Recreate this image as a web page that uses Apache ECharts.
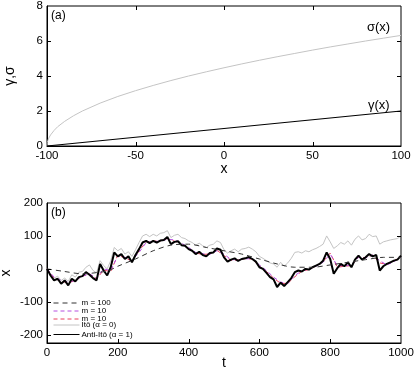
<!DOCTYPE html>
<html>
<head>
<meta charset="utf-8">
<script src="https://cdn.jsdelivr.net/npm/echarts@6/dist/echarts.min.js"></script>
<style>html,body{margin:0;padding:0;background:#fff}#c{width:414px;height:367px}</style>
</head>
<body>
<div id="c"></div>
<script>
// ---- panel (a) ----
const sigmaX = [-100,-99.8,-99.5,-99,-98,-96,-94,-90,-85,-80,-70,-60,-50,-40,-30,-20,-10,0,10,20,30,40,50,60,70,80,90,100];
const sigmaY = [0,0.2,0.32,0.45,0.63,0.89,1.1,1.41,1.73,2.0,2.45,2.83,3.16,3.46,3.74,4.0,4.24,4.47,4.69,4.9,5.1,5.29,5.48,5.66,5.83,6.0,6.16,6.32];
const gammaX = [-100,-50,0,50,100];
const gammaY = [0,0.5,1.0,1.5,2.0];
const xTicksA = [-50,0,50];
const yTicksA = [2,4,6];
// ---- panel (b) ----
const tGrid = [0,10,20,30,40,50,60,70,80,90,100,110,120,130,140,150,160,170,180,190,200,210,220,230,240,250,260,270,280,290,300,310,320,330,340,350,360,370,380,390,400,410,420,430,440,450,460,470,480,490,500,510,520,530,540,550,560,570,580,590,600,610,620,630,640,650,660,670,680,690,700,710,720,730,740,750,760,770,780,790,800,810,820,830,840,850,860,870,880,890,900,910,920,930,940,950,960,970,980,990,1000];
const antiIto = [0,-20,-35,-30,-45,-35,-50,-30,-38,-25,-22,-10,-18,-28,-35,15,-5,-20,5,50,38,45,30,38,20,42,60,80,85,78,85,80,86,88,97,75,82,84,72,70,60,55,45,52,42,38,48,50,62,58,35,22,28,32,24,30,32,36,30,22,5,0,-12,-25,-32,-55,-42,-52,-40,-28,-10,-5,-8,0,-2,5,10,15,25,50,30,-15,2,15,8,20,5,28,40,28,35,45,38,42,-5,8,15,20,25,28,40];
const ito = [0,-15,-28,-22,-35,-28,-38,-18,-25,-10,-8,5,12,-5,-12,25,10,0,25,65,55,62,45,52,38,58,80,100,105,98,105,100,108,110,116,95,102,105,95,92,85,80,72,78,70,65,72,75,85,80,58,48,55,60,52,60,62,66,60,52,38,32,25,18,15,5,20,8,18,32,50,52,48,55,52,58,62,68,75,100,82,62,70,80,75,85,72,90,100,88,92,105,98,100,75,82,85,88,90,92,100];
const m100T = [0,50,100,150,175,200,250,300,350,400,450,500,550,600,650,700,750,800,850,900,950,1000];
const m100V = [0,-8,-15,-10,-5,8,30,55,72,75,65,55,45,30,15,5,5,12,20,28,35,35];
const mag10T = [0,20,40,60,80,100,120,140,160,180,200,220,240,260,280,300,320,340,360,380,400,420,440,460,480,500,520,540,560,580,600,620,640,660,680,700,720,740,760,780,800,820,840,860,880,900,920,940,960,980,1000];
const mag10V = [0,-25,-35,-40,-35,-22,-15,-28,0,-5,40,35,25,50,80,83,84,90,88,78,65,50,46,44,55,45,28,28,30,32,12,-5,-25,-40,-45,-20,-6,-1,8,20,45,10,10,12,35,33,42,25,12,22,36];
const red10V = [0,-28,-38,-42,-36,-22,-16,-30,-4,-8,42,33,24,55,82,84,85,92,84,74,62,48,44,45,57,40,26,27,31,30,8,-8,-28,-44,-44,-24,-7,-2,9,22,48,5,8,10,36,34,42,18,14,24,38];
const xTicksB = [200,400,600,800];
const yTicksB = [-200,-100,0,100,200];
const yInnerB = [-200,-100,0,100];

const zip = (a,b) => a.map((v,i)=>[v,b[i]]);
const FONT = "'Liberation Sans', Arial, sans-serif";

function xAx(grid, min, max, interval, name, gap){
  return {type:'value', gridIndex:grid, min, max, interval, position:'bottom',
    name: name, nameLocation:'middle', nameGap:gap, nameMoveOverlap:false,
    nameTextStyle:{color:'#000', fontSize:14, fontFamily:FONT},
    axisLine:{show:true, onZero:false, lineStyle:{color:'#000', width:1}},
    axisTick:{show:false},
    axisLabel:{show:true, margin:4, color:'#000', fontSize:11.5, fontFamily:FONT, formatter:(v)=>String(v)},
    splitLine:{show:false}};
}
function yAx(grid, min, max, interval, name, gap, custom){
  const o = {type:'value', gridIndex:grid, min, max, interval, position:'left',
    name: name, nameLocation:'middle', nameGap:gap, nameRotate:90, nameMoveOverlap:false,
    nameTextStyle:{color:'#000', fontSize:14, fontFamily:FONT},
    axisLine:{show:true, onZero:false, lineStyle:{color:'#000', width:1}},
    axisTick:{show:false},
    axisLabel:{show:true, margin:4, color:'#000', fontSize:11.5, fontFamily:FONT, formatter:(v)=>String(v)},
    splitLine:{show:false}};
  if (custom){ o.axisLabel.customValues = custom; }
  return o;
}

// mirrored inward ticks on all four sides, placed through the axis scales
function tickRender(params, api){
  const cs = params.coordSys;
  const v = api.value(0), dir = api.value(1);
  const L = 4, st = {stroke:'#000', lineWidth:1};
  if (dir === 0){
    const p = api.coord([v, 0])[0];
    const x = Math.round(p) + 0.5;
    return {type:'group', children:[
      {type:'line', shape:{x1:x, y1:cs.y+cs.height, x2:x, y2:cs.y+cs.height-L}, style:st},
      {type:'line', shape:{x1:x, y1:cs.y, x2:x, y2:cs.y+L}, style:st}
    ]};
  } else {
    const p = api.coord([0, v])[1];
    const y = Math.round(p) + 0.5;
    return {type:'group', children:[
      {type:'line', shape:{x1:cs.x, y1:y, x2:cs.x+L, y2:y}, style:st},
      {type:'line', shape:{x1:cs.x+cs.width, y1:y, x2:cs.x+cs.width-L, y2:y}, style:st}
    ]};
  }
}
const tickData = (xs, ys) => xs.map(v=>[v,0]).concat(ys.map(v=>[v,1]));

const chart = echarts.init(document.getElementById('c'), null, {renderer:'canvas'});
chart.setOption({
  animation:false,
  backgroundColor:'#fff',
  textStyle:{fontFamily:FONT},
  grid:[
    {left:47, right:13, top:6, height:140, show:true, borderColor:'#000', borderWidth:1, backgroundColor:'transparent', outerBoundsMode:'none', containLabel:false},
    {left:47, right:13, top:203, height:140, show:true, borderColor:'#000', borderWidth:1, backgroundColor:'transparent', outerBoundsMode:'none', containLabel:false}
  ],
  xAxis:[
    xAx(0,-100,100,50,'x',16),
    xAx(1,0,1000,200,'t',13)
  ],
  yAxis:[
    yAx(0,0,8,2,'γ,σ',30),
    yAx(1,-225,200,25,'x',34,yTicksB)
  ],
  legend:[
    {data:['m = 100','m = 10','m = 10 '], orient:'vertical', left:53, top:299,
     itemWidth:26, itemHeight:6, itemGap:0, padding:0,
     textStyle:{fontSize:8, lineHeight:6.7, color:'#000', fontFamily:FONT, padding:[0,0,0,-3]},
     itemStyle:{opacity:0}, lineStyle:{width:1}},
    {data:['Itô (α = 0)','Anti-Itô (α = 1)'], orient:'vertical', left:53, top:321,
     itemWidth:26, itemHeight:6, itemGap:1.5, padding:0,
     textStyle:{fontSize:8, lineHeight:7, color:'#000', fontFamily:FONT, padding:[0,0,0,-3]},
     itemStyle:{opacity:0}, lineStyle:{width:1}}
  ],
  graphic:[
    {type:'text', left:51, top:10, style:{text:'(a)', font:'12px '+FONT, fill:'#000'}},
    {type:'text', left:367, top:21, style:{text:'σ(x)', font:'13px '+FONT, fill:'#000'}},
    {type:'text', left:368, top:99, style:{text:'γ(x)', font:'13px '+FONT, fill:'#000'}},
    {type:'text', left:51, top:207, style:{text:'(b)', font:'12px '+FONT, fill:'#000'}}
  ],
  series:[
    {type:'custom', name:'ticksA', xAxisIndex:0, yAxisIndex:0, data:tickData(xTicksA,yTicksA), renderItem:tickRender, silent:true, clip:false, z:10},
    {type:'custom', name:'ticksB', xAxisIndex:1, yAxisIndex:1, data:tickData(xTicksB,yInnerB), renderItem:tickRender, silent:true, clip:false, z:10},
    {type:'line', name:'sigma', xAxisIndex:0, yAxisIndex:0, data:zip(sigmaX,sigmaY), symbol:'none',
     lineStyle:{color:'#c4c4c4', width:1}},
    {type:'line', name:'gamma', xAxisIndex:0, yAxisIndex:0, data:zip(gammaX,gammaY), symbol:'none',
     lineStyle:{color:'#000', width:1.2}},
    {type:'line', name:'Itô (α = 0)', xAxisIndex:1, yAxisIndex:1, data:zip(tGrid,ito), symbol:'none', z:1,
     itemStyle:{color:'#c4c4c4'}, lineStyle:{color:'#c4c4c4', width:1}},
    {type:'line', name:'m = 10 ', xAxisIndex:1, yAxisIndex:1, data:zip(mag10T,red10V), symbol:'none', z:2,
     itemStyle:{color:'#e8405c'}, lineStyle:{color:'#e8405c', width:1, type:[4,3]}},
    {type:'line', name:'m = 10', xAxisIndex:1, yAxisIndex:1, data:zip(mag10T,mag10V), symbol:'none', z:3,
     itemStyle:{color:'#b64fe0'}, lineStyle:{color:'#b64fe0', width:1, type:[4,3]}},
    {type:'line', name:'Anti-Itô (α = 1)', xAxisIndex:1, yAxisIndex:1, data:zip(tGrid,antiIto), symbol:'none', z:4,
     itemStyle:{color:'#000'}, lineStyle:{color:'#000', width:2}},
    {type:'line', name:'m = 100', xAxisIndex:1, yAxisIndex:1, data:zip(m100T,m100V), symbol:'none', z:5, smooth:0.3,
     itemStyle:{color:'#333'}, lineStyle:{color:'#333', width:1, type:[5,4]}}
  ]
});
</script>
</body>
</html>
